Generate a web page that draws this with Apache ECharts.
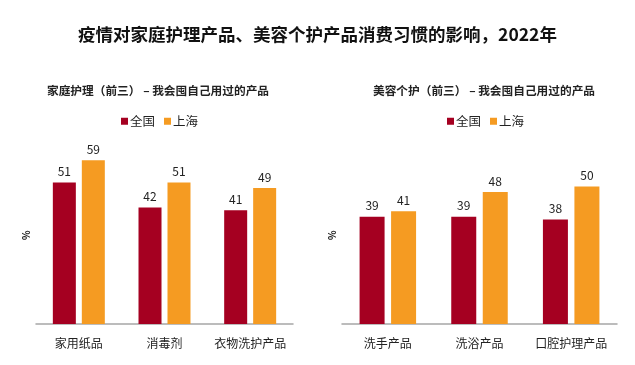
<!DOCTYPE html>
<html><head><meta charset="utf-8">
<script src="https://cdn.jsdelivr.net/npm/echarts@6/dist/echarts.min.js"></script>
<style>html,body{margin:0;padding:0;background:#fff}#c{width:635px;height:365px}</style>
</head><body><div id="c"></div>
<script>
const title = '疫情对家庭护理产品、美容个护产品消费习惯的影响，2022年';
const leftSubtitle = '家庭护理（前三） – 我会囤自己用过的产品';
const rightSubtitle = '美容个护（前三） – 我会囤自己用过的产品';
const seriesNames = ['全国', '上海'];
const leftCategories = ['家用纸品', '消毒剂', '衣物洗护产品'];
const leftNational = [51, 42, 41];
const leftShanghai = [59, 51, 49];
const rightCategories = ['洗手产品', '洗浴产品', '口腔护理产品'];
const rightNational = [39, 39, 38];
const rightShanghai = [41, 48, 50];
const unitLabel = '%';

const FONT = '"Noto Sans CJK SC", "Microsoft YaHei", sans-serif';
const RED = '#a50021', ORANGE = '#f59b22';
const chart = echarts.init(document.getElementById('c'));

function bar(name, data, idx, color) {
  return {
    name, type: 'bar', xAxisIndex: idx, yAxisIndex: idx, data,
    barWidth: idx === 0 ? 23 : 25, barGap: '26%',
    itemStyle: { color },
    label: { show: true, position: 'top', distance: 5, color: '#222', fontSize: 12, fontFamily: FONT },
    animation: false
  };
}
const xa = (cats, gi) => ({
  type: 'category', gridIndex: gi, data: cats,
  axisLine: { lineStyle: { color: '#a6a6a6', width: 1.5 } },
  axisTick: { show: false },
  axisLabel: { interval: 0, color: '#222', fontSize: 12, margin: 13, fontFamily: FONT }
});
const ya = gi => ({ type: 'value', gridIndex: gi, min: 0, max: 80, show: false });

chart.setOption({
  backgroundColor: '#fff',
  textStyle: { fontFamily: FONT },
  title: [
    { text: title, left: 'center', top: 21, textStyle: { fontSize: 17.5, fontWeight: 'bold', color: '#111', fontFamily: FONT } },
    { text: leftSubtitle, left: 153, textAlign: 'center', top: 80, textStyle: { fontSize: 11.7, fontWeight: 'bold', color: '#222', fontFamily: FONT } },
    { text: rightSubtitle, left: 479, textAlign: 'center', top: 80, textStyle: { fontSize: 11.7, fontWeight: 'bold', color: '#222', fontFamily: FONT } }
  ],
  legend: [
    { data: seriesNames, left: 116, top: 110, itemWidth: 7, itemHeight: 7, itemGap: 9, icon: 'rect',
      textStyle: { fontSize: 12.5, color: '#222', padding: [0, 0, 0, -3], fontFamily: FONT } },
    { data: seriesNames, left: 442, top: 110, itemWidth: 7, itemHeight: 7, itemGap: 9, icon: 'rect',
      textStyle: { fontSize: 12.5, color: '#222', padding: [0, 0, 0, -3], fontFamily: FONT } }
  ],
  grid: [
    { left: 36, width: 257, top: 102, bottom: 41 },
    { left: 342, width: 275, top: 104, bottom: 41 }
  ],
  xAxis: [xa(leftCategories, 0), xa(rightCategories, 1)],
  yAxis: [ya(0), ya(1)],
  graphic: [
    { type: 'text', x: 21, y: 240, rotation: Math.PI / 2, style: { text: unitLabel, fontSize: 10, fill: '#222', fontWeight: 'bold', fontFamily: FONT } },
    { type: 'text', x: 327, y: 240, rotation: Math.PI / 2, style: { text: unitLabel, fontSize: 10, fill: '#222', fontWeight: 'bold', fontFamily: FONT } }
  ],
  series: [
    bar(seriesNames[0], leftNational, 0, RED),
    bar(seriesNames[1], leftShanghai, 0, ORANGE),
    bar(seriesNames[0], rightNational, 1, RED),
    bar(seriesNames[1], rightShanghai, 1, ORANGE)
  ]
});
</script></body></html>
